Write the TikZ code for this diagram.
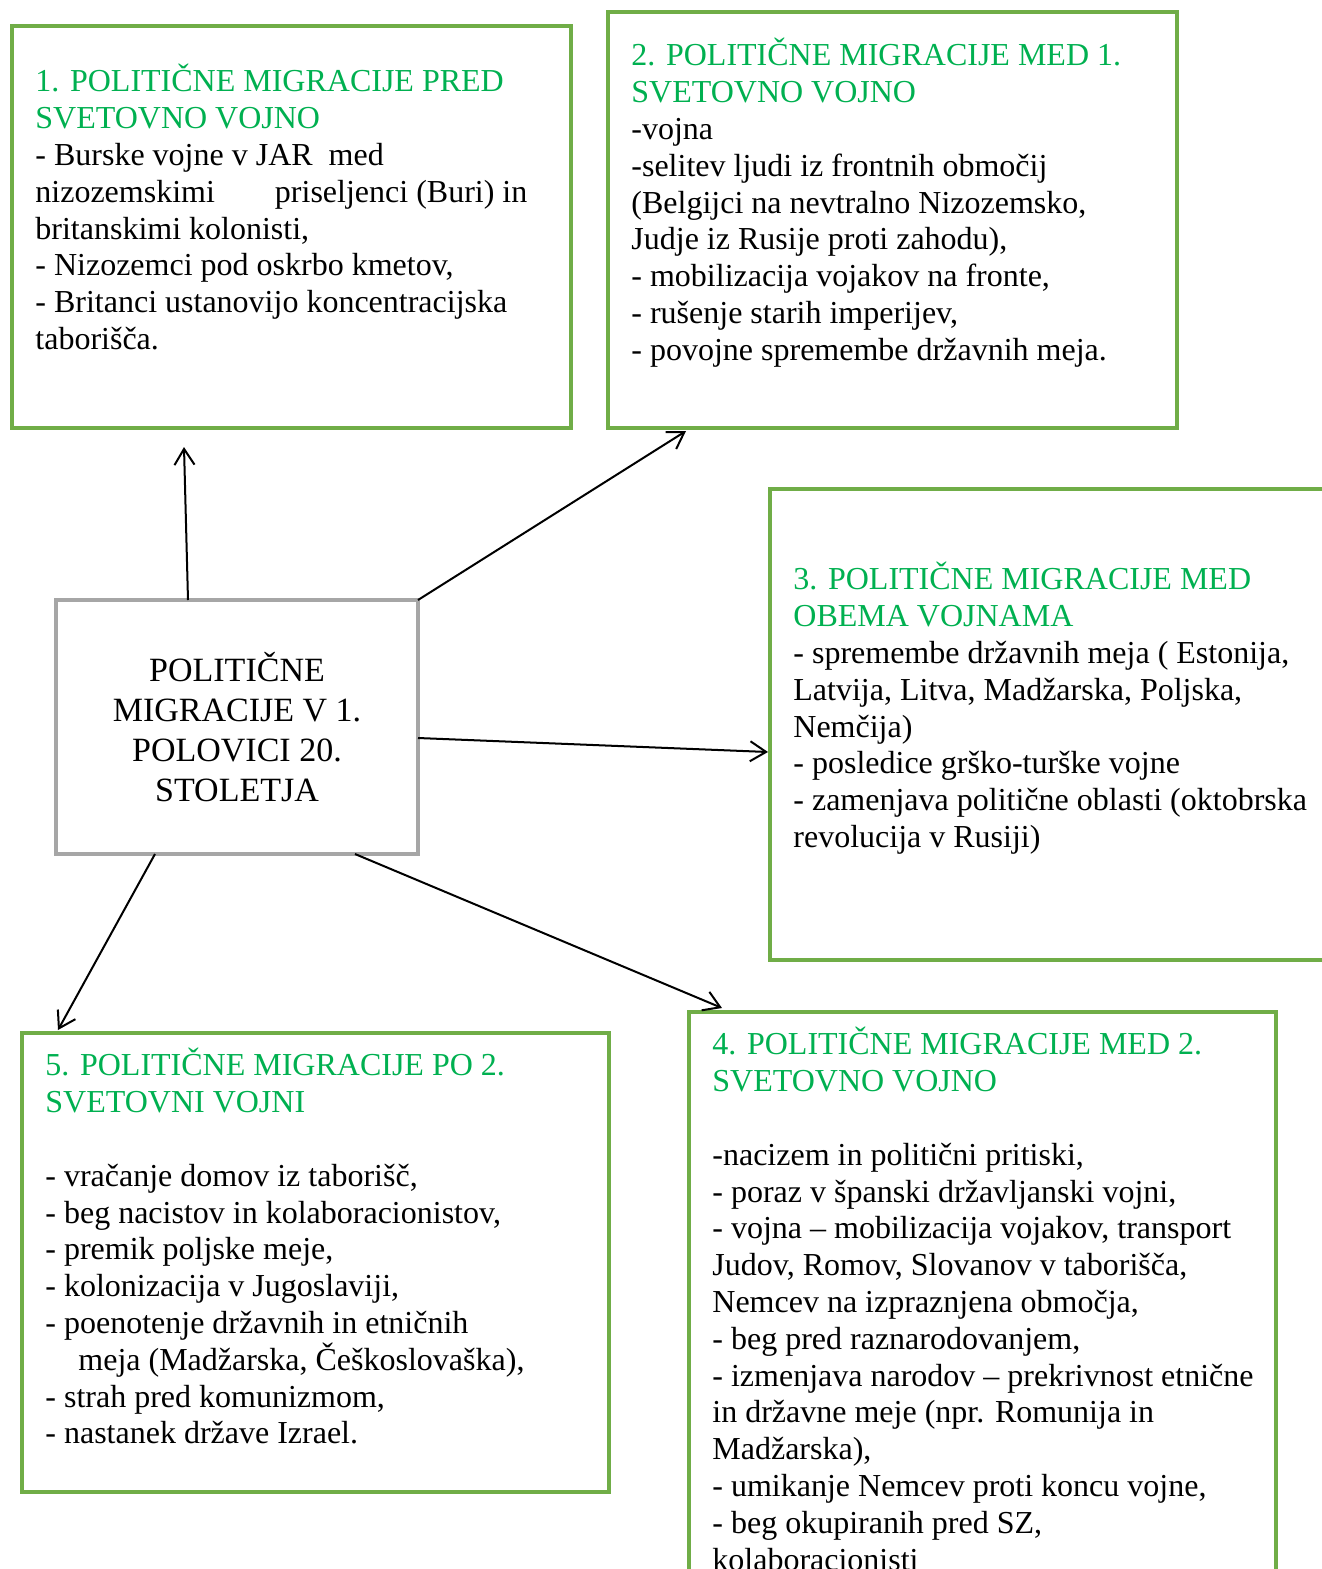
\documentclass[tikz,border=0pt]{standalone}
\usepackage{fontspec}
\setmainfont{Liberation Serif}
\usepackage{xcolor}
\definecolor{boxgreen}{RGB}{112,173,71}
\definecolor{titlegreen}{RGB}{0,176,80}
\definecolor{boxgray}{RGB}{166,166,166}
\usepackage{tikz}
\usetikzlibrary{
    arrows.meta,
    positioning,
    calc
}
\tikzset{
    greenbox/.style={draw=boxgreen, line width=2pt, anchor=north west, outer sep=0pt, inner sep=0pt},
    bodytext/.style={anchor=north west, align=left, inner sep=0pt, font=\fontsize{16}{18.4}\selectfont,
        execute at begin node=\rule{0pt}{16pt}},
    arrowline/.style={line width=1pt, -{Straight Barb[length=8pt,width=10pt]}}
}
\newcommand{\gtitle}[1]{\textcolor{titlegreen}{#1}}

\begin{document}
\begin{tikzpicture}[x=0.5pt, y=-0.5pt]
        \useasboundingbox (0,0) rectangle (1322,1569);

        % Centre
        \node[draw=boxgray, line width=2pt, outer sep=0pt, minimum width=181pt, minimum height=127pt,
              align=center, font=\fontsize{17}{20}\selectfont] (centre) at (237,727)
              {POLITIČNE\\MIGRACIJE V 1.\\POLOVICI 20.\\STOLETJA};

        % Boxes
        \node[greenbox, minimum width=279.5pt, minimum height=201pt] (box1) at (12,26) {};
        \node[greenbox, minimum width=284.5pt, minimum height=208pt] (box2) at (608,12) {};
        \node[greenbox, minimum width=285pt, minimum height=235.5pt] (box3) at (770,489) {};
        \node[greenbox, minimum width=293.5pt, minimum height=294pt] (box4) at (689,1012) {};
        \node[greenbox, minimum width=293.5pt, minimum height=229.5pt] (box5) at (22,1033) {};

        % Box texts
        \node[bodytext] (text1) at (35,64) {\gtitle{1. POLITIČNE MIGRACIJE PRED}\\\gtitle{SVETOVNO VOJNO}\\
            - Burske vojne v JAR\ \ med\\
            nizozemskimi\hspace{30pt}priseljenci (Buri) in\\
            britanskimi kolonisti,\\
            - Nizozemci pod oskrbo kmetov,\\
            - Britanci ustanovijo koncentracijska\\
            taborišča.};
        \node[bodytext] (text2) at (631,38) {\gtitle{2. POLITIČNE MIGRACIJE MED 1.}\\\gtitle{SVETOVNO VOJNO}\\
            -vojna\\
            -selitev ljudi iz frontnih območij\\
            (Belgijci na nevtralno Nizozemsko,\\
            Judje iz Rusije proti zahodu),\\
            - mobilizacija vojakov na fronte,\\
            - rušenje starih imperijev,\\
            - povojne spremembe državnih meja.};
        \node[bodytext] (text3) at (793,562) {\gtitle{3. POLITIČNE MIGRACIJE MED}\\\gtitle{OBEMA VOJNAMA}\\
            - spremembe državnih meja ( Estonija,\\
            Latvija, Litva, Madžarska, Poljska,\\
            Nemčija)\\
            - posledice grško-turške vojne\\
            - zamenjava politične oblasti (oktobrska\\
            revolucija v Rusiji)};
        \node[bodytext] (text4) at (712,1027) {\gtitle{4. POLITIČNE MIGRACIJE MED 2.}\\\gtitle{SVETOVNO VOJNO}\\
            \mbox{}\\
            -nacizem in politični pritiski,\\
            - poraz v španski državljanski vojni,\\
            - vojna – mobilizacija vojakov, transport\\
            Judov, Romov, Slovanov v taborišča,\\
            Nemcev na izpraznjena območja,\\
            - beg pred raznarodovanjem,\\
            - izmenjava narodov – prekrivnost etnične\\
            in državne meje (npr. Romunija in\\
            Madžarska),\\
            - umikanje Nemcev proti koncu vojne,\\
            - beg okupiranih pred SZ,\\
            kolaboracionisti};
        \node[bodytext] (text5) at (45,1048) {\gtitle{5. POLITIČNE MIGRACIJE PO 2.}\\\gtitle{SVETOVNI VOJNI}\\
            \mbox{}\\
            - vračanje domov iz taborišč,\\
            - beg nacistov in kolaboracionistov,\\
            - premik poljske meje,\\
            - kolonizacija v Jugoslaviji,\\
            - poenotenje državnih in etničnih\\
            \hspace*{16.5pt}meja (Madžarska, Češkoslovaška),\\
            - strah pred komunizmom,\\
            - nastanek države Izrael.};

        % Arrows
        \coordinate (tip1) at (184,447);
        \coordinate (tip2) at (686,431);
        \coordinate (tip3) at (768,752);
        \coordinate (tip4) at (722,1008);
        \coordinate (tip5) at (58,1030);
        \draw[arrowline] ([xshift=-24.5pt]centre.north) -- (tip1);
        \draw[arrowline] (centre.north east) -- (tip2);
        \draw[arrowline] ([yshift=-5.5pt]centre.east) -- (tip3);
        \draw[arrowline] ([xshift=59pt]centre.south) -- (tip4);
        \draw[arrowline] ([xshift=-41pt]centre.south) -- (tip5);
    \end{tikzpicture}
\end{document}
